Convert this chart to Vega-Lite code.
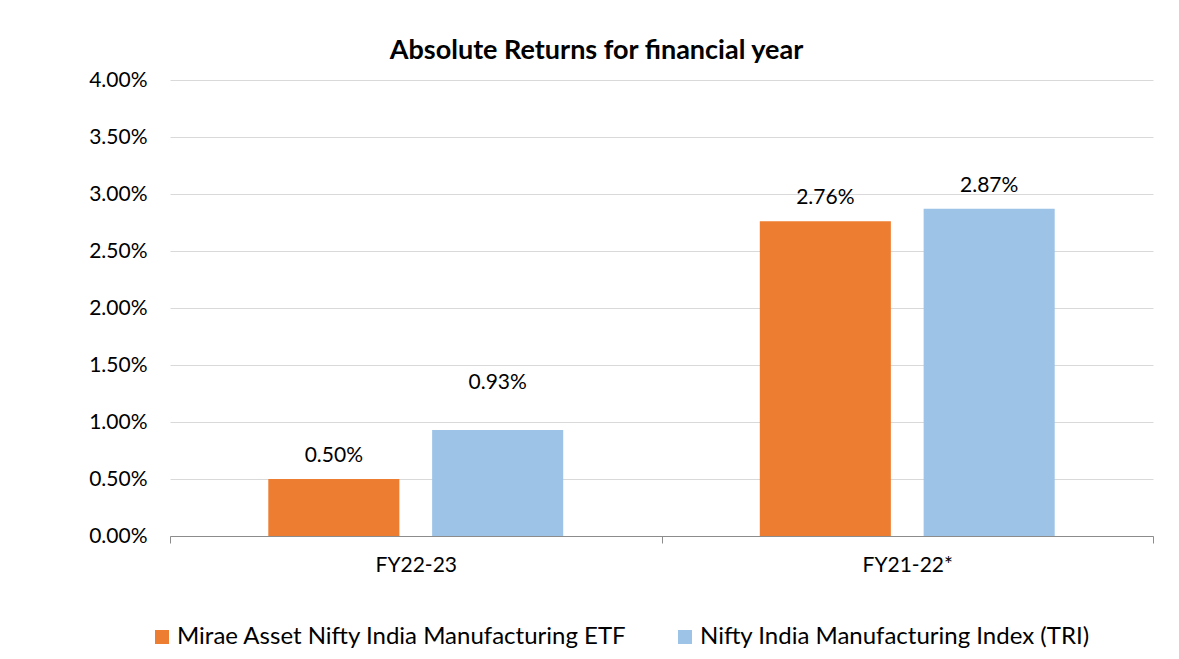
{
  "$schema": "https://vega.github.io/schema/vega-lite/v6.json",
  "autosize": "none",
  "width": 983,
  "height": 456,
  "padding": {"left": 170, "top": 80, "right": 26, "bottom": 123},
  "background": "white",
  "config": {
    "font": "Lato",
    "view": {"stroke": null},
    "axis": {"labelFont": "Lato", "labelFontSize": 21, "labelColor": "#000000"}
  },
  "title": {
    "text": "Absolute Returns for financial year",
    "font": "Lato",
    "fontSize": 27,
    "fontWeight": "bold",
    "color": "#000000",
    "anchor": "middle",
    "dx": -65,
    "offset": 4
  },
  "data": {
    "values": [
      {"year": "FY22-23", "series": "Mirae Asset Nifty India Manufacturing ETF", "ret": 0.005},
      {"year": "FY22-23", "series": "Nifty India Manufacturing Index (TRI)", "ret": 0.0093},
      {"year": "FY21-22*", "series": "Mirae Asset Nifty India Manufacturing ETF", "ret": 0.0276},
      {"year": "FY21-22*", "series": "Nifty India Manufacturing Index (TRI)", "ret": 0.0287}
    ]
  },
  "encoding": {
    "x": {
      "field": "year",
      "type": "nominal",
      "sort": ["FY22-23", "FY21-22*"],
      "scale": {"paddingInner": 0, "paddingOuter": 0},
      "axis": {
        "title": null,
        "labelAngle": 0,
        "domainColor": "#8c8c8c",
        "domainWidth": 1,
        "tickColor": "#8c8c8c",
        "tickSize": 7,
        "tickBand": "extent",
        "labelPadding": 11,
        "grid": false
      }
    },
    "xOffset": {
      "field": "series",
      "type": "nominal",
      "sort": ["Mirae Asset Nifty India Manufacturing ETF", "Nifty India Manufacturing Index (TRI)"],
      "scale": {"paddingInner": 0.2, "paddingOuter": 0.6}
    },
    "y": {
      "field": "ret",
      "type": "quantitative",
      "scale": {"domain": [0, 0.04], "nice": false},
      "axis": {
        "title": null,
        "format": ".2%",
        "values": [0, 0.005, 0.01, 0.015, 0.02, 0.025, 0.03, 0.035, 0.04],
        "domain": false,
        "ticks": false,
        "labelPadding": 23,
        "gridColor": "#d9d9d9",
        "gridWidth": 1
      }
    }
  },
  "layer": [
    {
      "mark": {"type": "bar"},
      "encoding": {
        "color": {
          "field": "series",
          "type": "nominal",
          "sort": ["Mirae Asset Nifty India Manufacturing ETF", "Nifty India Manufacturing Index (TRI)"],
          "scale": {"range": ["#ED7D31", "#9DC3E6"]},
          "legend": {
            "title": null,
            "orient": "none",
            "direction": "horizontal",
            "legendX": -20,
            "legendY": 545,
            "padding": 0,
            "symbolType": "square",
            "symbolSize": 196,
            "symbolStrokeWidth": 0,
            "labelFont": "Lato",
            "labelFontSize": 24,
            "labelColor": "#000000",
            "labelLimit": 700,
            "labelOffset": 3,
            "columnPadding": 45
          }
        }
      }
    },
    {
      "transform": [{"filter": "datum.ret != 0.0093"}],
      "mark": {"type": "text", "baseline": "bottom", "dy": -13, "fontSize": 21, "font": "Lato", "color": "#000000"},
      "encoding": {"text": {"field": "ret", "type": "quantitative", "format": ".2%"}}
    },
    {
      "transform": [{"filter": "datum.ret == 0.0093"}],
      "mark": {"type": "text", "baseline": "bottom", "dy": -37, "fontSize": 21, "font": "Lato", "color": "#000000"},
      "encoding": {"text": {"field": "ret", "type": "quantitative", "format": ".2%"}}
    }
  ]
}
